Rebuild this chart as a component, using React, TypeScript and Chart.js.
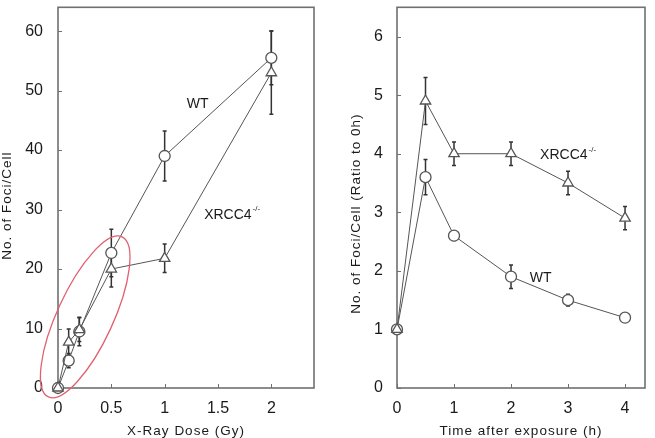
import React, { useEffect, useRef } from "react";
import { Chart, registerables } from "chart.js";

Chart.register(...registerables);

// ---- Left panel: foci per cell vs. X-ray dose ----
const doseGy = [0, 0.1, 0.2, 0.5, 1, 2];
const doseWT = [0, 4.6, 9.5, 22.7, 39, 55.5];
const doseWTErr = [0, 1.2, 2.4, 4, 4.2, 4.5];
const doseXRCC4 = [0, 7.7, 9.8, 20, 21.8, 53];
const doseXRCC4Err = [0, 2.2, 2, 3, 2.4, 7];
const doseTicks = [0, 0.5, 1, 1.5, 2];
const doseTickLabels = ["0", "0.5", "1", "1.5", "2"];
const fociTicks = [0, 10, 20, 30, 40, 50, 60];
const fociTickLabels = ["0", "10", "20", "30", "40", "50", "60"];

// ---- Right panel: foci ratio vs. time after exposure ----
const timeH = [0, 0.5, 1, 2, 3, 4];
const timeWT = [1, 3.6, 2.6, 1.9, 1.5, 1.2];
const timeWTErr = [0, 0.3, 0.08, 0.2, 0.1, 0.05];
const timeXRCC4 = [1, 4.9, 4, 4, 3.5, 2.9];
const timeXRCC4Err = [0, 0.4, 0.2, 0.2, 0.2, 0.2];
const timeTicks = [0, 1, 2, 3, 4];
const timeTickLabels = ["0", "1", "2", "3", "4"];
const ratioTicks = [0, 1, 2, 3, 4, 5, 6];
const ratioTickLabels = ["0", "1", "2", "3", "4", "5", "6"];

const FONT = "'Liberation Sans', Arial, sans-serif";
const INK = "#1a1a1a";
const LINE = "#555";

type Note = { text: string; sup?: string; x: number; y: number; align: CanvasTextAlign };
type PanelOpts = {
  errors: number[][];
  xTitle: string;
  yTitle: string;
  yTitleX: number;
  yTitleDy: number;
  notes: Note[];
  ellipse?: { from: [number, number]; to: [number, number]; minor: number };
};

const panelPlugin = {
  id: "panel",
  beforeDatasetsDraw(chart: any, _args: any, opts: PanelOpts) {
    const { ctx, chartArea: a } = chart;
    const xs = chart.scales.x;
    const ys = chart.scales.y;
    ctx.save();
    // frame
    ctx.strokeStyle = "#707070";
    ctx.lineWidth = 1.6;
    ctx.strokeRect(a.left, a.top, a.right - a.left, a.bottom - a.top);
    // inward tick marks
    ctx.lineWidth = 1;
    ctx.beginPath();
    xs.ticks.forEach((t: any) => {
      const px = Math.round(xs.getPixelForValue(t.value)) + 0.5;
      ctx.moveTo(px, a.bottom);
      ctx.lineTo(px, a.bottom - 4);
    });
    ys.ticks.forEach((t: any) => {
      const py = Math.round(ys.getPixelForValue(t.value)) + 0.5;
      ctx.moveTo(a.left, py);
      ctx.lineTo(a.left + 4, py);
    });
    ctx.stroke();
    // error bars
    ctx.strokeStyle = "#333";
    ctx.lineWidth = 1.5;
    chart.data.datasets.forEach((ds: any, i: number) => {
      const err = opts.errors[i];
      ds.data.forEach((p: any, j: number) => {
        const e = err[j];
        if (!e) return;
        const px = xs.getPixelForValue(p.x);
        const top = ys.getPixelForValue(p.y + e);
        const bot = ys.getPixelForValue(p.y - e);
        ctx.beginPath();
        ctx.moveTo(px, top);
        ctx.lineTo(px, bot);
        ctx.moveTo(px - 2, top);
        ctx.lineTo(px + 2, top);
        ctx.moveTo(px - 2, bot);
        ctx.lineTo(px + 2, bot);
        ctx.stroke();
      });
    });
    ctx.restore();
  },
  afterDatasetsDraw(chart: any, _args: any, opts: PanelOpts) {
    const { ctx, chartArea: a } = chart;
    const xs = chart.scales.x;
    const ys = chart.scales.y;
    ctx.save();
    // highlight ring
    if (opts.ellipse) {
      const x1 = xs.getPixelForValue(opts.ellipse.from[0]);
      const y1 = ys.getPixelForValue(opts.ellipse.from[1]);
      const x2 = xs.getPixelForValue(opts.ellipse.to[0]);
      const y2 = ys.getPixelForValue(opts.ellipse.to[1]);
      const rx = Math.hypot(x2 - x1, y2 - y1) / 2;
      ctx.strokeStyle = "#e06070";
      ctx.lineWidth = 1.3;
      ctx.beginPath();
      ctx.ellipse((x1 + x2) / 2, (y1 + y2) / 2, rx, opts.ellipse.minor, Math.atan2(y2 - y1, x2 - x1), 0, Math.PI * 2);
      ctx.stroke();
    }
    // series labels
    ctx.fillStyle = INK;
    ctx.textBaseline = "middle";
    opts.notes.forEach((n) => {
      const px = xs.getPixelForValue(n.x);
      const py = ys.getPixelForValue(n.y);
      ctx.font = `14px ${FONT}`;
      ctx.textAlign = n.align;
      ctx.fillText(n.text, px, py);
      if (n.sup) {
        const w = ctx.measureText(n.text).width;
        const sx = n.align === "center" ? px + w / 2 : px + w;
        ctx.font = `8px ${FONT}`;
        ctx.textAlign = "left";
        ctx.fillText(n.sup, sx + 1, py - 6);
      }
    });
    // axis titles
    ctx.font = `13.5px ${FONT}`;
    (ctx as any).letterSpacing = "1px";
    ctx.textAlign = "center";
    ctx.fillText(opts.xTitle, (a.left + a.right) / 2, a.bottom + 43);
    ctx.translate(opts.yTitleX, (a.top + a.bottom) / 2 + opts.yTitleDy);
    ctx.rotate(-Math.PI / 2);
    ctx.fillText(opts.yTitle, 0, 0);
    ctx.restore();
  },
};

function makeAxis(
  min: number,
  max: number,
  ticks: number[],
  labels: string[],
  padding: number,
  fit: (s: any) => void
) {
  return {
    type: "linear" as const,
    min,
    max,
    afterBuildTicks: (s: any) => {
      s.ticks = ticks.map((v) => ({ value: v }));
    },
    afterFit: fit,
    grid: { display: false, drawTicks: false },
    border: { display: false },
    ticks: {
      padding,
      color: INK,
      font: { family: FONT, size: 16 },
      maxRotation: 0,
      autoSkip: false,
      callback: (_v: any, i: number) => labels[i],
    },
  };
}

function series(xv: number[], yv: number[], style: string, radius: number) {
  return {
    data: xv.map((x, i) => ({ x, y: yv[i] })),
    borderColor: LINE,
    borderWidth: 1,
    backgroundColor: "#fff",
    pointStyle: style,
    pointRadius: radius,
    pointBorderWidth: 1.3,
    pointBorderColor: LINE,
    pointBackgroundColor: "#fff",
    tension: 0,
    clip: false as const,
  };
}

function Panel(props: {
  width: number;
  left: number;
  yWidth: number;
  padRight: number;
  xMax: number;
  yMax: number;
  xs: number[];
  wt: number[];
  wtErr: number[];
  ko: number[];
  koErr: number[];
  xTicks: number[];
  xLabels: string[];
  yTicks: number[];
  yLabels: string[];
  yPad: number;
  panel: Omit<PanelOpts, "errors">;
}) {
  const ref = useRef<HTMLCanvasElement>(null);
  useEffect(() => {
    if (!ref.current) return;
    const chart = new Chart(ref.current, {
      type: "line",
      data: {
        datasets: [
          series(props.xs, props.ko, "triangle", 6) as any,
          series(props.xs, props.wt, "circle", 5.5) as any,
        ],
      },
      options: {
        responsive: false,
        animation: false,
        devicePixelRatio: 1,
        layout: { padding: { top: 3, right: props.padRight, left: 0, bottom: 0 } },
        scales: {
          x: makeAxis(0, props.xMax, props.xTicks, props.xLabels, 11, (s: any) => {
            s.height = 50;
            s.paddingLeft = 0;
            s.paddingRight = 0;
          }),
          y: makeAxis(0, props.yMax, props.yTicks, props.yLabels, props.yPad, (s: any) => {
            s.width = props.yWidth;
            s.paddingTop = 0;
            s.paddingBottom = 0;
          }),
        },
        plugins: {
          legend: { display: false },
          tooltip: { enabled: false },
          panel: { ...props.panel, errors: [props.koErr, props.wtErr] },
        } as any,
      },
      plugins: [panelPlugin],
    });
    return () => chart.destroy();
  }, []);
  return (
    <canvas
      ref={ref}
      width={props.width}
      height={438}
      style={{ position: "absolute", left: props.left, top: 0, width: props.width, height: 438 }}
    />
  );
}

export default function App() {
  return (
    <div style={{ position: "fixed", left: 0, top: 0, width: 655, height: 438, background: "#fff" }}>
      <Panel
        width={330}
        left={0}
        yWidth={58}
        padRight={16}
        xMax={2.4}
        yMax={64}
        xs={doseGy}
        wt={doseWT}
        wtErr={doseWTErr}
        ko={doseXRCC4}
        koErr={doseXRCC4Err}
        xTicks={doseTicks}
        xLabels={doseTickLabels}
        yTicks={fociTicks}
        yLabels={fociTickLabels}
        yPad={15}
        panel={{
          xTitle: "X-Ray Dose (Gy)",
          yTitle: "No. of Foci/Cell",
          yTitleX: 7,
          yTitleDy: 8,
          notes: [
            { text: "WT", x: 1.31, y: 47.7, align: "center" },
            { text: "XRCC4", sup: "-/-", x: 1.37, y: 29.1, align: "left" },
          ],
          ellipse: { from: [-0.09, -1.5], to: [0.6, 25.4], minor: 28 },
        }}
      />
      <Panel
        width={325}
        left={330}
        yWidth={67}
        padRight={10}
        xMax={4.35}
        yMax={6.5}
        xs={timeH}
        wt={timeWT}
        wtErr={timeWTErr}
        ko={timeXRCC4}
        koErr={timeXRCC4Err}
        xTicks={timeTicks}
        xLabels={timeTickLabels}
        yTicks={ratioTicks}
        yLabels={ratioTickLabels}
        yPad={14}
        panel={{
          xTitle: "Time after exposure (h)",
          yTitle: "No. of Foci/Cell (Ratio to 0h)",
          yTitleX: 26,
          yTitleDy: 16,
          notes: [
            { text: "XRCC4", sup: "-/-", x: 2.51, y: 3.97, align: "left" },
            { text: "WT", x: 2.33, y: 1.87, align: "left" },
          ],
        }}
      />
    </div>
  );
}
